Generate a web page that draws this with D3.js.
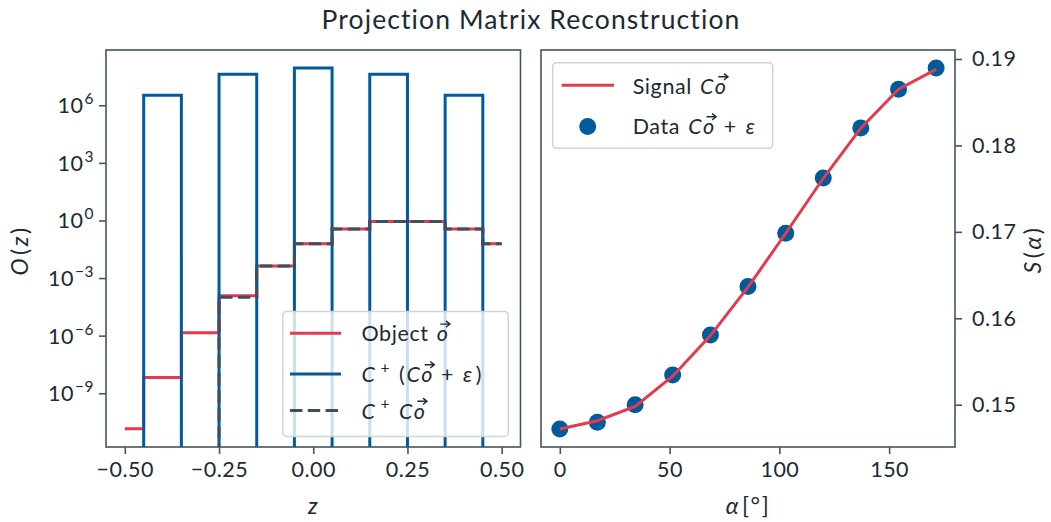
<!DOCTYPE html>
<html><head><meta charset="utf-8">
<script src="https://cdn.jsdelivr.net/npm/d3@7"></script>
<style>body{margin:0;background:#fff;} svg{display:block}</style>
</head><body>
<svg id="c" width="1051" height="522"></svg>
<script>
// ---------- data ----------
const zCenters   = [-0.5,-0.4,-0.3,-0.2,-0.1,0,0.1,0.2,0.3,0.4,0.5];
const objectVals = [1.4e-11,6.6e-9,1.4e-6,1.2e-4,4.3e-3,6.2e-2,3.6e-1,8.9e-1,8.9e-1,3.6e-1,6.2e-2];
const reconNoisy = [-2.1e6,3.3e6,-2.4e7,4.1e7,-6.9e7,8.7e7,-6.9e7,4.1e7,-2.4e7,3.3e6,-2.1e6];
const reconClean = [0,0,0,1.0e-4,4.3e-3,6.2e-2,3.6e-1,8.9e-1,8.9e-1,3.6e-1,6.2e-2];
const logTicks   = [1e-9,1e-6,1e-3,1,1e3,1e6];
const logTickExp = ["−9","−6","−3","0","3","6"];
const zTicks     = [-0.5,-0.25,0,0.25,0.5];
const zTickLabels= ["−0.50","−0.25","0.00","0.25","0.50"];

const alphaVals  = [0,17.1,34.3,51.4,68.6,85.7,102.9,120,137.1,154.3,171.4];
const signalVals = [0.14720,0.14815,0.14981,0.15330,0.15800,0.16360,0.16984,0.17620,0.18200,0.18650,0.18880];
const dataVals   = [0.14720,0.14797,0.15000,0.15343,0.15808,0.16369,0.16984,0.17623,0.18203,0.18649,0.18895];
const alphaTicks = [0,50,100,150];
const sTicks     = [0.15,0.16,0.17,0.18,0.19];

// ---------- style ----------
const FONT = "Lato, 'Open Sans', sans-serif";
const FS = 21.5;
const TXT = "#1b2a35";
const FRAME = "#44545f";
const RED = "#e63a4c";
const BLUE = "#005a9b";
const GREY = "#3e4e5a";
const LW = 3;
const DASH = "12.4,5.4";

const svg = d3.select("#c").style("font-family", FONT);

// title
svg.append("text").attr("x", 531).attr("y", 29).attr("text-anchor","middle")
  .attr("font-size", 26.5).attr("letter-spacing", 1.1).attr("fill", TXT)
  .text("Projection Matrix Reconstruction");

// math text helper: parts {t, it, sup, vec, dx}
function mathText(g, x, y, parts, o={}) {
  const fs = o.fs || FS;
  const t = g.append("text").attr("x", x).attr("y", y).attr("font-size", fs)
    .attr("fill", TXT).attr("text-anchor", o.anchor || "start");
  if (o.ls) t.attr("letter-spacing", o.ls);
  if (o.transform) t.attr("transform", o.transform);
  let cur = 0; const vecs = []; let idx = 0;
  parts.forEach(p => {
    const ts = t.append("tspan").text(p.t);
    if (p.it) ts.attr("font-style","italic");
    let target = 0;
    if (p.sup) { ts.attr("font-size", fs*0.72); target = -fs*0.42; }
    if (target !== cur) { ts.attr("dy", target - cur); cur = target; }
    if (p.dx) ts.attr("dx", p.dx);
    if (p.vec) vecs.push(idx + p.t.length - 1);
    idx += p.t.length;
  });
  vecs.forEach(ci => {
    const r = t.node().getExtentOfChar(ci);
    const x0 = r.x + r.width*0.30, x1 = r.x + r.width*1.12;
    const yy = y - fs*0.80;
    g.append("path").attr("d", `M${x0},${yy}H${x1}M${x1-4},${yy-3.2}L${x1},${yy}L${x1-4},${yy+3.2}`)
      .attr("fill","none").attr("stroke", TXT).attr("stroke-width",1.4);
  });
  return t;
}

// ================= LEFT PANEL =================
const L = {x0:106, x1:520.5, y0:50, y1:447};
const xL = d3.scaleLinear().domain([-0.55,0.55]).range([L.x0,L.x1]);
const yL = d3.scaleLog().domain([Math.pow(10,-11.8), Math.pow(10,8.88)]).range([L.y1,L.y0]);

svg.append("clipPath").attr("id","clipL").append("rect")
  .attr("x",L.x0).attr("y",L.y0).attr("width",L.x1-L.x0).attr("height",L.y1-L.y0);

const gL = svg.append("g");
const plotL = gL.append("g").attr("clip-path","url(#clipL)");
const stepLine = d3.line().curve(d3.curveStep)
  .x((d,i) => xL(zCenters[i]))
  .y(d => d > 0 ? yL(d) : L.y1 + 200);

plotL.append("path").datum(objectVals).attr("d", stepLine)
  .attr("fill","none").attr("stroke",RED).attr("stroke-width",LW);
plotL.append("path").datum(reconNoisy).attr("d", stepLine)
  .attr("fill","none").attr("stroke",BLUE).attr("stroke-width",LW);
plotL.append("path").datum(reconClean).attr("d", stepLine)
  .attr("fill","none").attr("stroke",GREY).attr("stroke-width",LW)
  .attr("stroke-dasharray",DASH);

// axes left
gL.append("g").attr("transform",`translate(0,${L.y1})`)
  .call(d3.axisBottom(xL).tickValues(zTicks).tickSize(7).tickSizeOuter(0)
        .tickFormat((d,i)=>zTickLabels[i]).tickPadding(8));
const axLf = gL.append("g").attr("transform",`translate(${L.x0},0)`)
  .call(d3.axisLeft(yL).tickValues(logTicks).tickSize(7).tickSizeOuter(0).tickFormat(""));
axLf.selectAll(".tick").each(function(d,i){
  mathText(d3.select(this), -12, 7.5, [{t:"10"},{t:logTickExp[i], sup:true, dx:1}], {anchor:"end", ls:0.5});
});

// frame
gL.append("rect").attr("x",L.x0).attr("y",L.y0).attr("width",L.x1-L.x0).attr("height",L.y1-L.y0)
  .attr("fill","none").attr("stroke",FRAME).attr("stroke-width",1.6);

// axis labels
mathText(svg, 313, 514, [{t:"z", it:true}], {anchor:"middle", fs:23});
mathText(svg, 0, 0, [{t:"O", it:true},{t:"(", dx:2},{t:"z", it:true, dx:1},{t:")", dx:1}],
  {anchor:"middle", fs:23, ls:1.5, transform:"translate(28,251) rotate(-90)"});

// legend left
const lgL = svg.append("g");
lgL.append("rect").attr("x",282.7).attr("y",311.5).attr("width",225.6).attr("height",125).attr("rx",4)
  .attr("fill","rgba(255,255,255,0.8)").attr("stroke","#cfd3d6").attr("stroke-width",1.5);
const legRows = [333.3, 374, 410.5];
const hx0 = 290, hx1 = 341;
lgL.append("line").attr("x1",hx0).attr("x2",hx1).attr("y1",legRows[0]).attr("y2",legRows[0])
  .attr("stroke",RED).attr("stroke-width",LW);
lgL.append("line").attr("x1",hx0).attr("x2",hx1).attr("y1",legRows[1]).attr("y2",legRows[1])
  .attr("stroke",BLUE).attr("stroke-width",LW);
lgL.append("line").attr("x1",hx0).attr("x2",hx1).attr("y1",legRows[2]).attr("y2",legRows[2])
  .attr("stroke",GREY).attr("stroke-width",LW).attr("stroke-dasharray",DASH);
const tx = 361.5;
mathText(lgL, tx, legRows[0]+8, [{t:"Object "},{t:"o", it:true, vec:true, dx:2}], {ls:0.6});
mathText(lgL, tx, legRows[1]+8, [{t:"C", it:true},{t:"+", sup:true, dx:5},{t:"(", dx:9},{t:"C", it:true, dx:1},{t:"o", it:true, vec:true, dx:1},{t:"+", dx:8},{t:"ε", it:true, dx:9},{t:")", dx:3}], {ls:0.6});
mathText(lgL, tx, legRows[2]+8, [{t:"C", it:true},{t:"+", sup:true, dx:5},{t:"C", it:true, dx:9},{t:"o", it:true, vec:true, dx:1}], {ls:0.6});

// ================= RIGHT PANEL =================
const R = {x0:541, x1:955, y0:50, y1:447};
const xR = d3.scaleLinear().domain([-8.57,180]).range([R.x0,R.x1]);
const yR = d3.scaleLinear().domain([0.14511,0.19104]).range([R.y1,R.y0]);
const gR = svg.append("g");

gR.selectAll("circle.pt").data(dataVals).join("circle").attr("class","pt")
  .attr("cx",(d,i)=>xR(alphaVals[i])).attr("cy",d=>yR(d)).attr("r",8.5).attr("fill",BLUE);
gR.append("path").datum(signalVals)
  .attr("d", d3.line().x((d,i)=>xR(alphaVals[i])).y(d=>yR(d)))
  .attr("fill","none").attr("stroke",RED).attr("stroke-width",LW);

gR.append("g").attr("transform",`translate(0,${R.y1})`)
  .call(d3.axisBottom(xR).tickValues(alphaTicks).tickSize(7).tickSizeOuter(0).tickPadding(8));
gR.append("g").attr("transform",`translate(${R.x1},0)`)
  .call(d3.axisRight(yR).tickValues(sTicks).tickSize(7).tickSizeOuter(0).tickPadding(10)
        .tickFormat(d3.format(".2f")));

gR.append("rect").attr("x",R.x0).attr("y",R.y0).attr("width",R.x1-R.x0).attr("height",R.y1-R.y0)
  .attr("fill","none").attr("stroke",FRAME).attr("stroke-width",1.6);

mathText(svg, 748, 514, [{t:"α", it:true},{t:"[°]", dx:2}], {anchor:"middle", fs:23, ls:1.5});
mathText(svg, 0, 0, [{t:"S", it:true},{t:"(", dx:2},{t:"α", it:true, dx:1},{t:")", dx:1}],
  {anchor:"middle", fs:23, ls:1.5, transform:"translate(1041,250) rotate(-90)"});

// legend right
const lgR = svg.append("g");
lgR.append("rect").attr("x",552.7).attr("y",62.7).attr("width",220).attr("height",85.6).attr("rx",4)
  .attr("fill","rgba(255,255,255,0.8)").attr("stroke","#cfd3d6").attr("stroke-width",1.5);
lgR.append("line").attr("x1",561.7).attr("x2",614).attr("y1",85.3).attr("y2",85.3)
  .attr("stroke",RED).attr("stroke-width",LW);
lgR.append("circle").attr("cx",587.7).attr("cy",126.5).attr("r",8.5).attr("fill",BLUE);
mathText(lgR, 632.7, 94, [{t:"Signal "},{t:"C", it:true, dx:2},{t:"o", it:true, vec:true, dx:1}], {ls:0.6});
mathText(lgR, 632.7, 134, [{t:"Data "},{t:"C", it:true, dx:2},{t:"o", it:true, vec:true, dx:1},{t:"+", dx:9},{t:"ε", it:true, dx:9}], {ls:0.6});

// axis styling
svg.selectAll(".domain").remove();
svg.selectAll(".tick line").attr("stroke",FRAME).attr("stroke-width",1.6);
svg.selectAll(".tick > text").attr("fill",TXT).attr("font-size",FS).attr("font-family",FONT)
  .attr("letter-spacing",0.5);
</script>
</body></html>
